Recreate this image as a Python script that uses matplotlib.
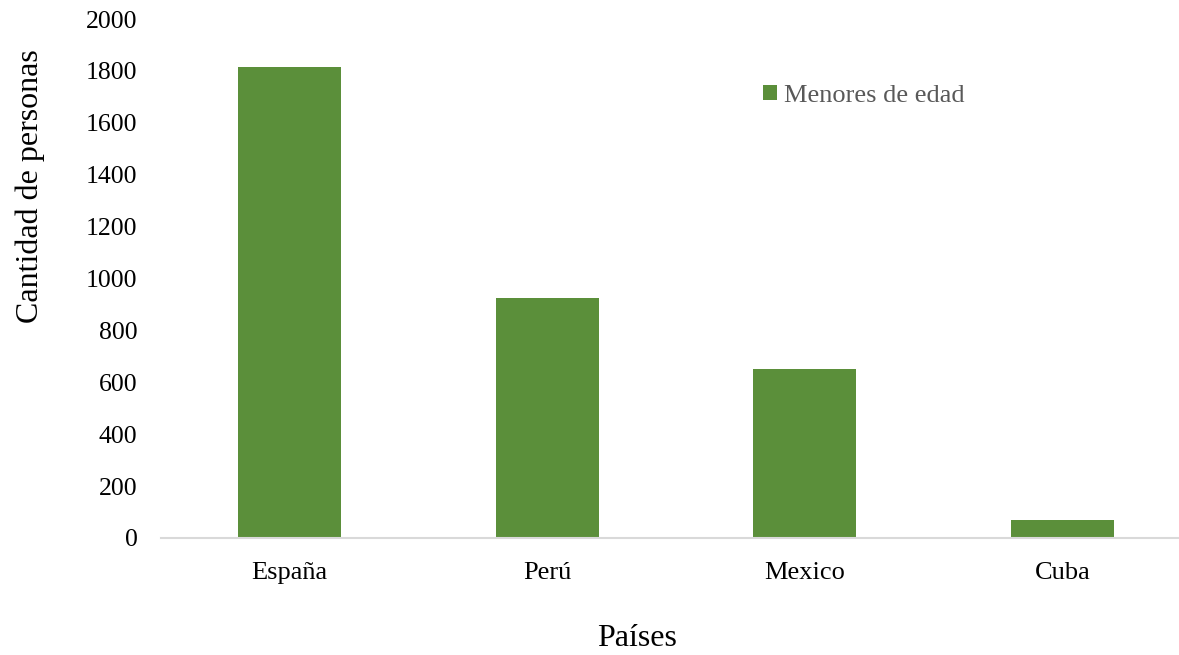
import numpy as np
import matplotlib.pyplot as plt
from matplotlib.patches import Patch

# datos
paises = ['España', 'Perú', 'Mexico', 'Cuba']
menores = [1815, 923, 652, 70]
yticks = [0, 200, 400, 600, 800, 1000, 1200, 1400, 1600, 1800, 2000]

verde = '#5b8f3a'
plt.rcParams['font.family'] = ['Liberation Serif', 'DejaVu Serif']

fig = plt.figure(figsize=(11.79, 6.55), dpi=100)
ax = fig.add_axes([161/1179, 117/655, 1030/1179, 519/655])

x = np.arange(len(paises))
ax.bar(x, menores, width=0.4, color=verde, label='Menores de edad', zorder=2)

ax.set_xlim(-0.5, 3.5)
ax.set_ylim(0, 2000)
ax.set_yticks(yticks)
ax.set_xticks(x)
ax.set_xticklabels(paises)
ax.tick_params(axis='both', length=0, colors='black')
ax.tick_params(axis='y', pad=17, labelsize=18.5)
ax.tick_params(axis='x', pad=17, labelsize=19)

for s in ['top', 'right', 'left']:
    ax.spines[s].set_visible(False)
ax.spines['bottom'].set_color('#d9d9d9')
ax.spines['bottom'].set_linewidth(1.5)

# titulos de ejes (posicion como en Excel)
fig.text(30/1179, 1 - 186/655, 'Cantidad de personas', fontsize=23,
         rotation=90, ha='center', va='center')
fig.text(637/1179, 1 - 638/655, 'Países', fontsize=23, ha='center', va='center')

handles = [Patch(facecolor=verde, label='Menores de edad')]
leg = ax.legend(handles=handles, loc='center left', bbox_to_anchor=(602/1030, (538-96)/519),
                frameon=False, fontsize=19, handlelength=0.52, handleheight=0.52,
                handletextpad=0.27, borderaxespad=0, borderpad=0)
for t in leg.get_texts():
    t.set_color('#595959')

fig.savefig('out.png', dpi=100)
